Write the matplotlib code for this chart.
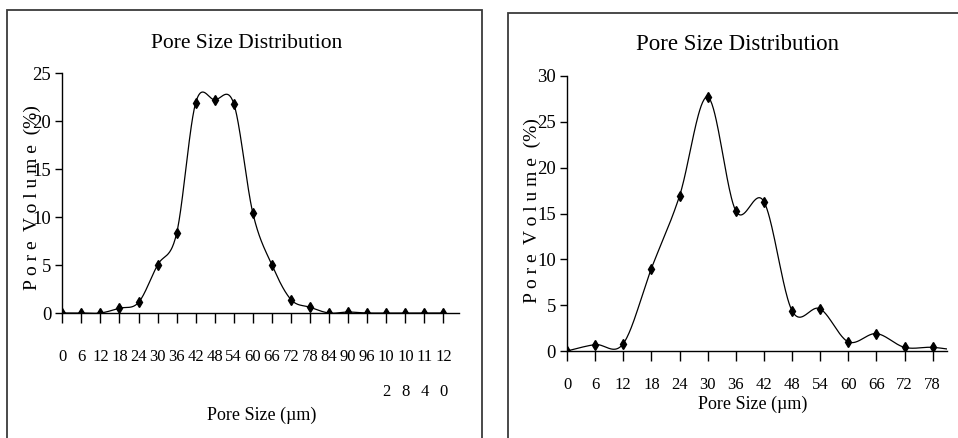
import numpy as np
import matplotlib
matplotlib.use("Agg")
import matplotlib.pyplot as plt
from matplotlib.patches import Rectangle

# Pore size classes (µm) and pore volume (%) for the two samples
size_a = [0, 6, 12, 18, 24, 30, 36, 42, 48, 54, 60, 66, 72, 78, 84, 90, 96, 102, 108, 114, 120]
volume_a = [0, 0, 0, 0.5, 1.1, 5.0, 8.3, 21.9, 22.2, 21.8, 10.4, 5.0, 1.4, 0.6, 0, 0.1, 0, 0, 0, 0, 0]
ticklabels_a = ["0", "6", "12", "18", "24", "30", "36", "42", "48", "54", "60", "66", "72",
                "78", "84", "90", "96", "10\n2", "10\n8", "11\n4", "12\n0"]

size_b = [0, 6, 12, 18, 24, 30, 36, 42, 48, 54, 60, 66, 72, 78, 84]
volume_b = [0, 0.7, 0.8, 9.0, 16.9, 27.7, 15.3, 16.3, 4.4, 4.6, 1.0, 1.9, 0.4, 0.4, 0]
ticklabels_b = ["0", "6", "12", "18", "24", "30", "36", "42", "48", "54", "60", "66", "72", "78"]

W, H = 958, 438
SERIF = "Liberation Serif"


def smooth(x, y, n=40):
    """Cubic Bezier smoothing through every point (Catmull-Rom style tangents)."""
    x = np.asarray(x, float)
    y = np.asarray(y, float)
    px = np.concatenate([[x[0]], x, [x[-1]]])
    py = np.concatenate([[y[0]], y, [y[-1]]])
    t = np.linspace(0, 1, n)[:, None]
    xs, ys = [], []
    for i in range(1, len(px) - 2):
        p0 = np.array([px[i], py[i]])
        p1 = p0 + (np.array([px[i + 1], py[i + 1]]) - np.array([px[i - 1], py[i - 1]])) / 6
        p3 = np.array([px[i + 1], py[i + 1]])
        p2 = p3 - (np.array([px[i + 2], py[i + 2]]) - p0) / 6
        b = ((1 - t) ** 3) * p0 + 3 * ((1 - t) ** 2) * t * p1 + 3 * (1 - t) * t ** 2 * p2 + t ** 3 * p3
        xs.append(b[:, 0])
        ys.append(b[:, 1])
    return np.concatenate(xs), np.concatenate(ys)


def fx(px):
    return px / W


def fy(py):
    return 1 - py / H


fig = plt.figure(figsize=(W / 100, H / 100), dpi=100)

# panel frames
fig.patches.append(Rectangle((fx(6.5), fy(460)), fx(482) - fx(6.5), fy(9.5) - fy(460),
                             transform=fig.transFigure, fill=False, lw=1.3, ec="#3a3a3a"))
fig.patches.append(Rectangle((fx(507.7), fy(460)), fx(990) - fx(507.7), fy(13.3) - fy(460),
                             transform=fig.transFigure, fill=False, lw=1.3, ec="#3a3a3a"))


def panel(rect, sizes, vols, labels, xmax, ymax, pad_x, title_xy, tfs, xlabel_xy, ylabel_xy):
    ax = fig.add_axes(rect)
    sx, sy = smooth(sizes, vols)
    ax.plot(sx, sy, color="black", lw=0.9)
    ax.plot(sizes, vols, ls="none", marker="d", ms=5.5, color="black")
    ax.set_xlim(0, xmax)
    ax.set_ylim(0, ymax)
    ax.set_xticks(sizes[:len(labels)])
    ax.set_xticklabels(labels, fontfamily=SERIF, fontsize=12, linespacing=2.6)
    ax.set_yticks(np.arange(0, ymax + 1, 5))
    ax.set_yticklabels([str(v) for v in range(0, ymax + 1, 5)], fontfamily=SERIF, fontsize=13.5)
    for s in ("top", "right"):
        ax.spines[s].set_visible(False)
    for s in ("left", "bottom"):
        ax.spines[s].set_linewidth(1.0)
    ax.tick_params(axis="x", direction="out", length=7, width=1, pad=pad_x)
    ax.tick_params(axis="y", direction="out", length=5, width=1, pad=3)
    fig.text(fx(title_xy[0]), fy(title_xy[1]), "Pore Size Distribution", family=SERIF,
             fontsize=tfs, ha="center", va="center")
    fig.text(fx(xlabel_xy[0]), fy(xlabel_xy[1]), "Pore Size (µm)", family=SERIF,
             fontsize=13, ha="center", va="center")
    fig.text(fx(ylabel_xy[0]), fy(ylabel_xy[1]), "P o r e  V o l u m e  (%)", family=SERIF,
             fontsize=14, ha="center", va="center", rotation=90)
    return ax


panel([fx(62.3), fy(313), fx(459.3) - fx(62.3), fy(73) - fy(313)],
      size_a, volume_a, ticklabels_a, 125, 25, 19,
      (247, 43), 15.5, (262, 415), (32, 198))

panel([fx(567), fy(351), fx(946.7) - fx(567), fy(76) - fy(351)],
      size_b, volume_b, ticklabels_b, 81, 30, 12,
      (738, 45), 16.5, (753, 404), (532, 211))

fig.savefig("out.png", dpi=100)
